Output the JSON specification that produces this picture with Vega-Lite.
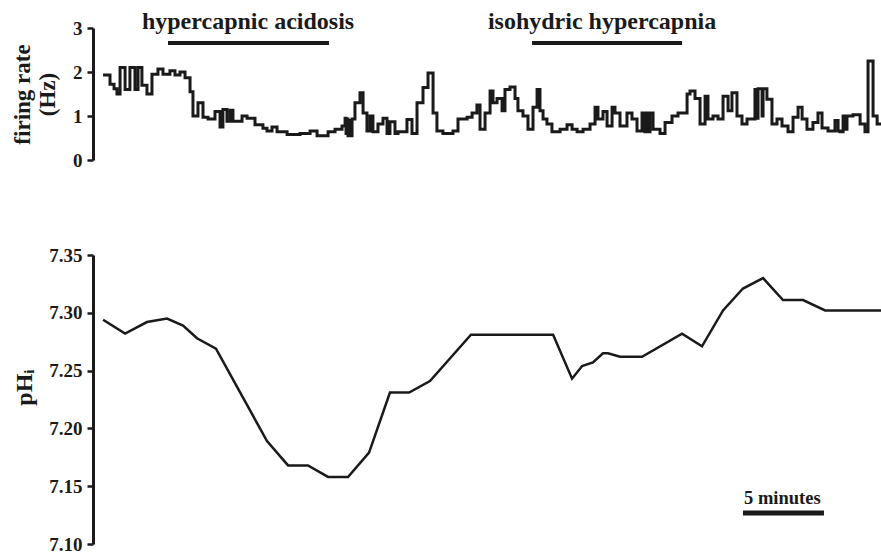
{
  "$schema": "https://vega.github.io/schema/vega-lite/v6.json",
  "autosize": {"type": "pad"},
  "padding": {"left": 11, "top": 9, "right": 0, "bottom": 0},
  "background": "white",
  "spacing": 95,
  "bounds": "flush",
  "config": {
    "view": {"stroke": null},
    "font": "Liberation Serif",
    "axis": {
      "domainColor": "#1a1a1a", "domainWidth": 3, "tickColor": "#1a1a1a", "tickWidth": 2.5, "tickSize": 6,
      "labelFont": "Liberation Serif", "labelFontWeight": "bold", "labelFontSize": 19, "labelColor": "#1a1a1a", "labelPadding": 5,
      "titleFont": "Liberation Serif", "titleFontWeight": "bold", "titleFontSize": 23, "titleColor": "#1a1a1a",
      "grid": false
    }
  },
  "datasets": {
    "rate": [
      {"t": 0.62, "r": 1.93}, {"t": 1.05, "r": 1.72}, {"t": 1.30, "r": 1.62}, {"t": 1.48, "r": 1.5}, {"t": 1.67, "r": 2.1},
      {"t": 1.98, "r": 1.6}, {"t": 2.28, "r": 2.1}, {"t": 2.59, "r": 1.6}, {"t": 2.78, "r": 2.1}, {"t": 3.02, "r": 1.7},
      {"t": 3.33, "r": 1.5}, {"t": 3.64, "r": 1.95}, {"t": 4.01, "r": 2.07}, {"t": 4.32, "r": 1.95}, {"t": 4.75, "r": 2.03},
      {"t": 5.06, "r": 1.93}, {"t": 5.37, "r": 2.0}, {"t": 5.68, "r": 1.87}, {"t": 5.99, "r": 1.55}, {"t": 6.17, "r": 1.0},
      {"t": 6.48, "r": 1.3}, {"t": 6.79, "r": 0.97}, {"t": 7.10, "r": 0.93}, {"t": 7.53, "r": 1.1}, {"t": 7.84, "r": 0.75},
      {"t": 8.02, "r": 1.15}, {"t": 8.27, "r": 0.88}, {"t": 8.46, "r": 1.13}, {"t": 8.64, "r": 0.88}, {"t": 9.20, "r": 1.0},
      {"t": 9.51, "r": 0.95}, {"t": 10.0, "r": 0.8}, {"t": 10.49, "r": 0.72}, {"t": 10.74, "r": 0.66}, {"t": 11.05, "r": 0.75},
      {"t": 11.36, "r": 0.64}, {"t": 11.98, "r": 0.58}, {"t": 12.78, "r": 0.6}, {"t": 13.40, "r": 0.66}, {"t": 13.83, "r": 0.55},
      {"t": 14.51, "r": 0.64}, {"t": 14.94, "r": 0.7}, {"t": 15.37, "r": 0.77}, {"t": 15.56, "r": 0.95}, {"t": 15.62, "r": 0.6},
      {"t": 15.68, "r": 0.93}, {"t": 15.74, "r": 0.55}, {"t": 15.86, "r": 0.9}, {"t": 15.93, "r": 0.55}, {"t": 15.99, "r": 0.93},
      {"t": 16.17, "r": 1.3}, {"t": 16.48, "r": 1.53}, {"t": 16.67, "r": 1.07}, {"t": 16.91, "r": 0.66}, {"t": 17.10, "r": 1.0},
      {"t": 17.28, "r": 0.64}, {"t": 17.59, "r": 0.82}, {"t": 17.90, "r": 0.95}, {"t": 18.15, "r": 0.6}, {"t": 18.33, "r": 0.87},
      {"t": 18.64, "r": 0.6}, {"t": 18.83, "r": 0.64}, {"t": 19.38, "r": 0.92}, {"t": 19.69, "r": 0.6}, {"t": 20.0, "r": 1.3},
      {"t": 20.37, "r": 1.65}, {"t": 20.68, "r": 1.98}, {"t": 20.99, "r": 1.07}, {"t": 21.23, "r": 0.66}, {"t": 21.60, "r": 0.6},
      {"t": 22.22, "r": 0.66}, {"t": 22.53, "r": 0.93}, {"t": 23.09, "r": 0.97}, {"t": 23.40, "r": 1.07}, {"t": 23.70, "r": 1.25},
      {"t": 23.89, "r": 0.7}, {"t": 24.20, "r": 1.07}, {"t": 24.51, "r": 1.57}, {"t": 24.69, "r": 1.3}, {"t": 24.94, "r": 1.4},
      {"t": 25.25, "r": 1.12}, {"t": 25.43, "r": 1.6}, {"t": 25.74, "r": 1.66}, {"t": 26.05, "r": 1.4}, {"t": 26.23, "r": 1.12},
      {"t": 26.54, "r": 1.0}, {"t": 26.85, "r": 0.7}, {"t": 27.16, "r": 1.2}, {"t": 27.41, "r": 1.6}, {"t": 27.59, "r": 1.12},
      {"t": 27.78, "r": 0.93}, {"t": 28.02, "r": 0.82}, {"t": 28.33, "r": 0.64}, {"t": 28.83, "r": 0.7}, {"t": 29.26, "r": 0.8},
      {"t": 29.57, "r": 0.7}, {"t": 29.88, "r": 0.64}, {"t": 30.25, "r": 0.7}, {"t": 30.68, "r": 0.82}, {"t": 30.99, "r": 1.2},
      {"t": 31.17, "r": 0.93}, {"t": 31.48, "r": 1.1}, {"t": 31.73, "r": 0.77}, {"t": 32.04, "r": 1.2}, {"t": 32.22, "r": 1.07},
      {"t": 32.53, "r": 0.77}, {"t": 32.96, "r": 1.07}, {"t": 33.27, "r": 0.93}, {"t": 33.58, "r": 0.66}, {"t": 33.89, "r": 1.07},
      {"t": 34.07, "r": 0.64}, {"t": 34.20, "r": 1.07}, {"t": 34.26, "r": 0.64}, {"t": 34.38, "r": 1.07}, {"t": 34.57, "r": 0.7},
      {"t": 35.0, "r": 0.6}, {"t": 35.31, "r": 0.85}, {"t": 35.74, "r": 1.0}, {"t": 36.11, "r": 1.07}, {"t": 36.67, "r": 1.5},
      {"t": 36.85, "r": 1.57}, {"t": 37.16, "r": 1.4}, {"t": 37.47, "r": 0.82}, {"t": 37.78, "r": 1.45}, {"t": 37.96, "r": 0.93},
      {"t": 38.27, "r": 1.0}, {"t": 38.58, "r": 0.93}, {"t": 38.89, "r": 1.45}, {"t": 39.20, "r": 1.12}, {"t": 39.44, "r": 1.53},
      {"t": 39.75, "r": 1.0}, {"t": 40.06, "r": 0.82}, {"t": 40.37, "r": 0.93}, {"t": 40.86, "r": 1.6}, {"t": 40.99, "r": 0.95},
      {"t": 41.05, "r": 1.62}, {"t": 41.30, "r": 1.0}, {"t": 41.36, "r": 1.62}, {"t": 41.60, "r": 1.38}, {"t": 41.91, "r": 0.82},
      {"t": 42.22, "r": 0.93}, {"t": 42.53, "r": 0.77}, {"t": 42.90, "r": 0.64}, {"t": 43.21, "r": 0.97}, {"t": 43.52, "r": 1.2},
      {"t": 43.77, "r": 0.93}, {"t": 44.07, "r": 0.7}, {"t": 44.44, "r": 0.85}, {"t": 44.75, "r": 1.07}, {"t": 45.0, "r": 0.73},
      {"t": 45.37, "r": 0.66}, {"t": 45.80, "r": 0.9}, {"t": 45.99, "r": 0.66}, {"t": 46.11, "r": 0.64}, {"t": 46.30, "r": 1.0},
      {"t": 46.42, "r": 0.7}, {"t": 46.54, "r": 1.0}, {"t": 46.91, "r": 1.03}, {"t": 47.35, "r": 0.82}, {"t": 47.65, "r": 0.64},
      {"t": 47.84, "r": 2.25}, {"t": 48.15, "r": 1.0}, {"t": 48.40, "r": 0.82}, {"t": 48.64, "r": 0.82}
    ],
    "ph": [
      {"t": 0.62, "p": 7.294}, {"t": 1.98, "p": 7.282}, {"t": 3.33, "p": 7.292}, {"t": 4.57, "p": 7.295}, {"t": 5.56, "p": 7.289},
      {"t": 6.42, "p": 7.278}, {"t": 7.59, "p": 7.269}, {"t": 10.74, "p": 7.189}, {"t": 12.04, "p": 7.168}, {"t": 13.27, "p": 7.168},
      {"t": 14.51, "p": 7.158}, {"t": 15.74, "p": 7.158}, {"t": 17.04, "p": 7.179}, {"t": 18.33, "p": 7.231}, {"t": 19.51, "p": 7.231},
      {"t": 20.80, "p": 7.241}, {"t": 23.33, "p": 7.281}, {"t": 28.40, "p": 7.281}, {"t": 29.57, "p": 7.243}, {"t": 30.19, "p": 7.254},
      {"t": 30.86, "p": 7.257}, {"t": 31.48, "p": 7.265}, {"t": 31.79, "p": 7.265}, {"t": 32.53, "p": 7.262}, {"t": 33.89, "p": 7.262},
      {"t": 36.36, "p": 7.282}, {"t": 37.59, "p": 7.271}, {"t": 38.89, "p": 7.302}, {"t": 40.12, "p": 7.321}, {"t": 41.36, "p": 7.330},
      {"t": 42.59, "p": 7.311}, {"t": 43.83, "p": 7.311}, {"t": 45.19, "p": 7.302}, {"t": 48.64, "p": 7.302}
    ],
    "periods": [
      {"label": "hypercapnic acidosis", "start": 4.63, "end": 14.57, "mid": 9.57, "bary": 2.66, "texty": 2.98},
      {"label": "isohydric hypercapnia", "start": 27.1, "end": 36.36, "mid": 31.42, "bary": 2.66, "texty": 2.98}
    ],
    "scalebar": [
      {"label": "5 minutes", "start": 40.12, "end": 45.12, "mid": 42.55, "bary": 7.1268, "texty": 7.1346}
    ]
  },
  "vconcat": [
    {
      "width": 788,
      "height": 132,
      "layer": [
        {
          "data": {"name": "rate"},
          "mark": {"type": "line", "interpolate": "step-after", "color": "#1a1a1a", "strokeWidth": 3},
          "encoding": {
            "x": {"field": "t", "type": "quantitative", "scale": {"domain": [0, 48.64], "nice": false, "zero": false}, "axis": null},
            "y": {"field": "r", "type": "quantitative", "scale": {"domain": [0, 3], "nice": false},
                  "axis": {"values": [0, 1, 2, 3], "title": ["firing rate", "(Hz)"], "titleX": -71, "titleY": 66, "titleAngle": -90, "titleAlign": "center", "titleBaseline": "middle", "titleLineHeight": 25}}
          }
        },
        {
          "data": {"name": "periods"},
          "mark": {"type": "rule", "color": "#1a1a1a", "strokeWidth": 4},
          "encoding": {
            "x": {"field": "start", "type": "quantitative"},
            "x2": {"field": "end"},
            "y": {"field": "bary", "type": "quantitative"}
          }
        },
        {
          "data": {"name": "periods"},
          "mark": {"type": "text", "font": "Liberation Serif", "fontWeight": "bold", "fontSize": 24, "color": "#1a1a1a", "baseline": "alphabetic", "align": "center"},
          "encoding": {
            "x": {"field": "mid", "type": "quantitative"},
            "y": {"field": "texty", "type": "quantitative"},
            "text": {"field": "label"}
          }
        }
      ]
    },
    {
      "width": 788,
      "height": 289,
      "layer": [
        {
          "data": {"name": "ph"},
          "mark": {"type": "line", "color": "#1a1a1a", "strokeWidth": 2.5},
          "encoding": {
            "x": {"field": "t", "type": "quantitative", "scale": {"domain": [0, 48.64], "nice": false, "zero": false}, "axis": null},
            "y": {"field": "p", "type": "quantitative", "scale": {"domain": [7.10, 7.35], "nice": false, "zero": false},
                  "axis": {"values": [7.10, 7.15, 7.20, 7.25, 7.30, 7.35], "format": ".2f", "title": "pHᵢ", "titleX": -69, "titleY": 132, "titleFontSize": 24, "titleAngle": -90, "titleAlign": "center", "titleBaseline": "middle"}}
          }
        },
        {
          "data": {"name": "scalebar"},
          "mark": {"type": "rule", "color": "#1a1a1a", "strokeWidth": 5},
          "encoding": {
            "x": {"field": "start", "type": "quantitative"},
            "x2": {"field": "end"},
            "y": {"field": "bary", "type": "quantitative"}
          }
        },
        {
          "data": {"name": "scalebar"},
          "mark": {"type": "text", "font": "Liberation Serif", "fontWeight": "bold", "fontSize": 18.5, "color": "#1a1a1a", "baseline": "alphabetic", "align": "center"},
          "encoding": {
            "x": {"field": "mid", "type": "quantitative"},
            "y": {"field": "texty", "type": "quantitative"},
            "text": {"field": "label"}
          }
        }
      ]
    }
  ]
}
